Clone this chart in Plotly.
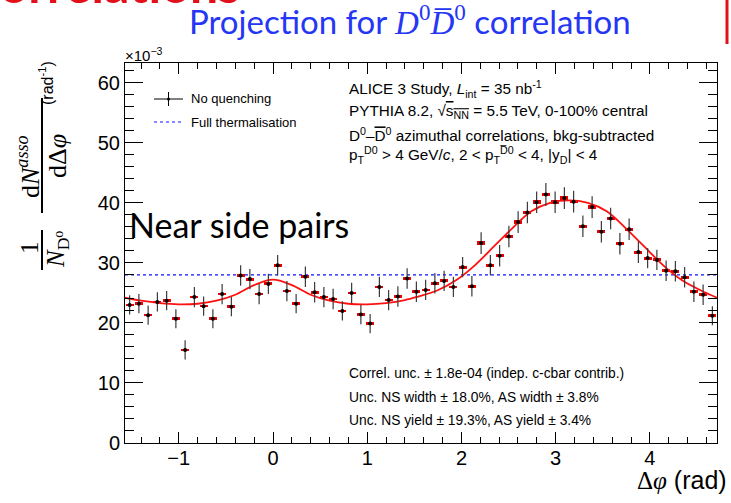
import numpy as np
import plotly.graph_objects as go

# Binning of the azimuthal difference
n_bins = 64
phi_lo, phi_hi = -np.pi / 2, 3 * np.pi / 2
bin_w = (phi_hi - phi_lo) / n_bins
dphi = phi_lo + (np.arange(n_bins) + 0.5) * bin_w

# Per-bin yields (x 10^-3 rad^-1), no-quenching projection
yield_vals = [
    23.0, 23.2, 21.3, 23.5, 23.7, 20.7, 15.5, 24.3, 22.8, 20.7, 24.8, 22.7, 27.9, 27.3, 24.8, 26.5,
    29.6, 25.3, 23.2, 27.7, 25.1, 24.3, 24.0, 22.0, 25.0, 21.4, 19.9, 26.0, 23.8, 24.4, 27.4, 25.2,
    25.5, 26.6, 27.0, 26.0, 29.3, 26.1, 33.3, 29.6, 31.2, 34.4, 36.8, 38.4, 40.1, 41.4, 40.1, 40.8,
    40.2, 36.1, 39.3, 35.2, 37.4, 33.2, 35.6, 31.8, 30.8, 30.5, 28.7, 28.6, 27.6, 25.2, 24.7, 21.2,
]
stat_err = [
    1.6, 1.6, 1.6, 1.6, 1.6, 1.6, 1.6, 1.7, 1.6, 1.6, 1.7, 1.6, 1.7, 1.7, 1.7, 1.7,
    1.7, 1.7, 1.6, 1.7, 1.7, 1.7, 1.7, 1.6, 1.7, 1.6, 1.6, 1.7, 1.7, 1.7, 1.7, 1.7,
    1.7, 1.7, 1.7, 1.7, 1.7, 1.7, 1.8, 1.7, 1.8, 1.8, 1.8, 1.8, 1.8, 1.9, 1.8, 1.8,
    1.8, 1.8, 1.8, 1.8, 1.8, 1.8, 1.8, 1.8, 1.7, 1.7, 1.7, 1.7, 1.7, 1.7, 1.7, 1.6,
]
syst_err = [
    0.22, 0.22, 0.22, 0.22, 0.22, 0.22, 0.20, 0.22, 0.22, 0.22, 0.22, 0.22, 0.24, 0.24, 0.22, 0.24,
    0.26, 0.22, 0.22, 0.24, 0.22, 0.22, 0.22, 0.22, 0.22, 0.22, 0.20, 0.22, 0.22, 0.22, 0.24, 0.22,
    0.22, 0.24, 0.24, 0.22, 0.26, 0.22, 0.28, 0.26, 0.27, 0.28, 0.30, 0.30, 0.30, 0.32, 0.30, 0.32,
    0.30, 0.28, 0.30, 0.28, 0.30, 0.28, 0.28, 0.26, 0.26, 0.26, 0.24, 0.24, 0.24, 0.22, 0.22, 0.22,
]

# Fitted correlation function (baseline + near-side and away-side peaks)
fit_phi = [-1.571, -1.4, -1.2, -1.0, -0.8, -0.6, -0.4, -0.2, 0.0, 0.2, 0.4, 0.6, 0.8, 1.0, 1.2,
           1.4, 1.542, 1.742, 1.942, 2.142, 2.342, 2.542, 2.742, 2.942, 3.142, 3.342, 3.542,
           3.742, 3.942, 4.142, 4.342, 4.542, 4.712]
fit_vals = [24.2, 23.7, 23.3, 23.1, 23.2, 23.7, 24.7, 26.3, 27.2, 26.3, 24.7, 23.7, 23.2, 23.1, 23.3,
            23.8, 24.4, 25.4, 27.1, 29.6, 32.7, 35.8, 38.6, 40.0, 40.4, 40.0, 38.6,
            35.8, 32.7, 29.6, 27.1, 25.4, 24.2]

# Full thermalisation expectation (flat)
thermal_phi = [phi_lo, phi_hi]
thermal_vals = [28.0, 28.0]

x_ticks = [-1, 0, 1, 2, 3, 4]
x_ticklabels = ["\u22121", "0", "1", "2", "3", "4"]
y_ticks = [0, 10, 20, 30, 40, 50, 60]
y_max = 63.3

SANS = "Liberation Sans, Arial, Helvetica, sans-serif"
SERIF = "Liberation Serif, DejaVu Serif, Times New Roman, serif"
SLIDE = "Lato, Carlito, sans-serif"

W, H = 731, 503
L, R, T, B = 125, 717, 63, 443


def fx(p):
    return (p - L) / (R - L)


def fy(p):
    return (B - p) / (B - T)


fig = go.Figure()

fig.add_trace(go.Scatter(
    x=thermal_phi, y=thermal_vals, mode="lines",
    line=dict(color="#1010ff", width=1.2, dash="dot"), hoverinfo="skip", showlegend=False,
))

fig.add_trace(go.Bar(
    x=dphi, y=[2 * s for s in syst_err], base=[v - s for v, s in zip(yield_vals, syst_err)],
    width=0.085, marker=dict(color="#ee0000", line=dict(width=0)), showlegend=False,
))

fig.add_trace(go.Scatter(
    x=fit_phi, y=fit_vals, mode="lines", line=dict(color="#ff1010", width=1.8, shape="spline", smoothing=1.0),
    hoverinfo="skip", showlegend=False,
))

fig.add_trace(go.Scatter(
    x=dphi, y=yield_vals, mode="markers",
    marker=dict(color="black", size=4),
    error_y=dict(type="data", array=stat_err, visible=True, color="#3a3a3a", thickness=1.2, width=0),
    showlegend=False,
))

axis_common = dict(
    showgrid=False, zeroline=False, showline=True, linecolor="black", linewidth=1,
    mirror="ticks", ticks="inside", tickcolor="black", tickwidth=1,
    tickfont=dict(family=SANS, size=20, color="black"),
)

fig.update_xaxes(
    range=[phi_lo, phi_hi], tickvals=x_ticks, ticktext=x_ticklabels, ticklen=11,
    ticklabelstandoff=-3,
    minor=dict(dtick=0.2, tick0=0, ticklen=6, ticks="inside", tickcolor="black", tickwidth=1),
    **axis_common,
)
fig.update_yaxes(
    range=[0, y_max], tickvals=y_ticks, ticklen=18,
    minor=dict(dtick=2, tick0=0, ticklen=9, ticks="inside", tickcolor="black", tickwidth=1),
    **axis_common,
)

ann = []


def text(x, y, s, size=13, family=SANS, color="black", xanchor="left", yanchor="middle", angle=0):
    ann.append(dict(
        x=fx(x), y=fy(y), xref="paper", yref="paper", text=s, showarrow=False,
        xanchor=xanchor, yanchor=yanchor, textangle=angle,
        font=dict(family=family, size=size, color=color),
    ))


# Slide heading fragments
text(242, 16, "<b>Correlations</b>", size=50, family=SLIDE, color="#e3101c", xanchor="right", yanchor="bottom")
text(410, 20,
     "Projection for <span style='font-family:Liberation Serif'><i>D</i><sup>0</sup>"
     "<i>D\u0305</i><sup>0</sup></span> correlation",
     size=33, family=SLIDE, color="#2536f5", xanchor="center")
text(127, 224, "Near side pairs", size=34, family=SLIDE, xanchor="left")

# Axis multiplier
text(123, 54, "\u00d710<sup>\u22123</sup>", size=15, xanchor="left")

# Legend
text(189, 99, "No quenching", size=13)
text(189, 122, "Full thermalisation", size=13)

# Physics labels
info_top = [
    (89, "ALICE 3 Study, <i>L</i><sub>int</sub> = 35 nb<sup>-1</sup>"),
    (112, "PYTHIA 8.2, \u221a<span style='text-decoration:overline'>s<sub>NN</sub></span> = 5.5 TeV, 0-100% central"),
    (134, "D<sup>0</sup>\u2013<span style='text-decoration:overline'>D</span><sup>0</sup> azimuthal correlations, bkg-subtracted"),
    (155, "p<sub>T</sub><sup>D0</sup> &gt; 4 GeV/<i>c</i>, 2 &lt; p<sub>T</sub><sup>D\u03050</sup> &lt; 4, |y<sub>D</sub>| &lt; 4"),
]
for yy, s in info_top:
    text(347, yy, s, size=15.3)

info_bottom = [
    (373, "Correl. unc. \u00b1 1.8e-04 (indep. c-cbar contrib.)"),
    (397, "Unc. NS width \u00b1 18.0%, AS width \u00b1 3.8%"),
    (420, "Unc. NS yield \u00b1 19.3%, AS yield \u00b1 3.4%"),
]
for yy, s in info_bottom:
    text(347, yy, s, size=13.8)

# Y-axis title built as a stacked fraction
text(30, 248, "1", size=25, family=SERIF, xanchor="center", angle=-90)
text(57, 250, "<i>N</i><sub>D\u2070</sub>", size=25, family=SERIF, xanchor="center", angle=-90)
text(28, 167, "d<i>N<sup>asso</sup></i>", size=26, family=SERIF, xanchor="center", angle=-90)
text(57, 156, "d\u0394<i>\u03c6</i>", size=26, family=SERIF, xanchor="center", angle=-90)
text(46, 83, "(rad<sup>-1</sup>)", size=16, xanchor="center", angle=-90)

# X-axis title
text(729, 480, "<span style='font-family:Liberation Serif'>\u0394<i>\u03c6</i></span> (rad)", size=25, xanchor="right")

shapes = [
    # fraction bars
    dict(type="line", xref="paper", yref="paper", x0=fx(42), x1=fx(42), y0=fy(230), y1=fy(270),
         line=dict(color="black", width=2)),
    dict(type="line", xref="paper", yref="paper", x0=fx(42), x1=fx(42), y0=fy(98), y1=fy(213),
         line=dict(color="black", width=2)),
    # legend symbols
    dict(type="line", xref="paper", yref="paper", x0=fx(154), x1=fx(183), y0=fy(99), y1=fy(99),
         line=dict(color="black", width=1)),
    dict(type="line", xref="paper", yref="paper", x0=fx(168.5), x1=fx(168.5), y0=fy(92), y1=fy(106),
         line=dict(color="black", width=1)),
    dict(type="circle", xref="paper", yref="paper", x0=fx(167), x1=fx(170), y0=fy(97.5), y1=fy(100.5),
         fillcolor="black", line=dict(width=0)),
    dict(type="line", xref="paper", yref="paper", x0=fx(154), x1=fx(183), y0=fy(122), y1=fy(122),
         line=dict(color="#1010ff", width=1.2, dash="dot")),
    # slide frame edge
    dict(type="line", xref="paper", yref="paper", x0=fx(727), x1=fx(727), y0=fy(0), y1=fy(44),
         line=dict(color="#e3101c", width=3)),
]

fig.update_layout(
    width=W, height=H,
    margin=dict(l=L, r=W - R, t=T, b=H - B),
    paper_bgcolor="white", plot_bgcolor="white",
    showlegend=False, annotations=ann, shapes=shapes,
    bargap=0,
)

fig.write_html("out.html")
